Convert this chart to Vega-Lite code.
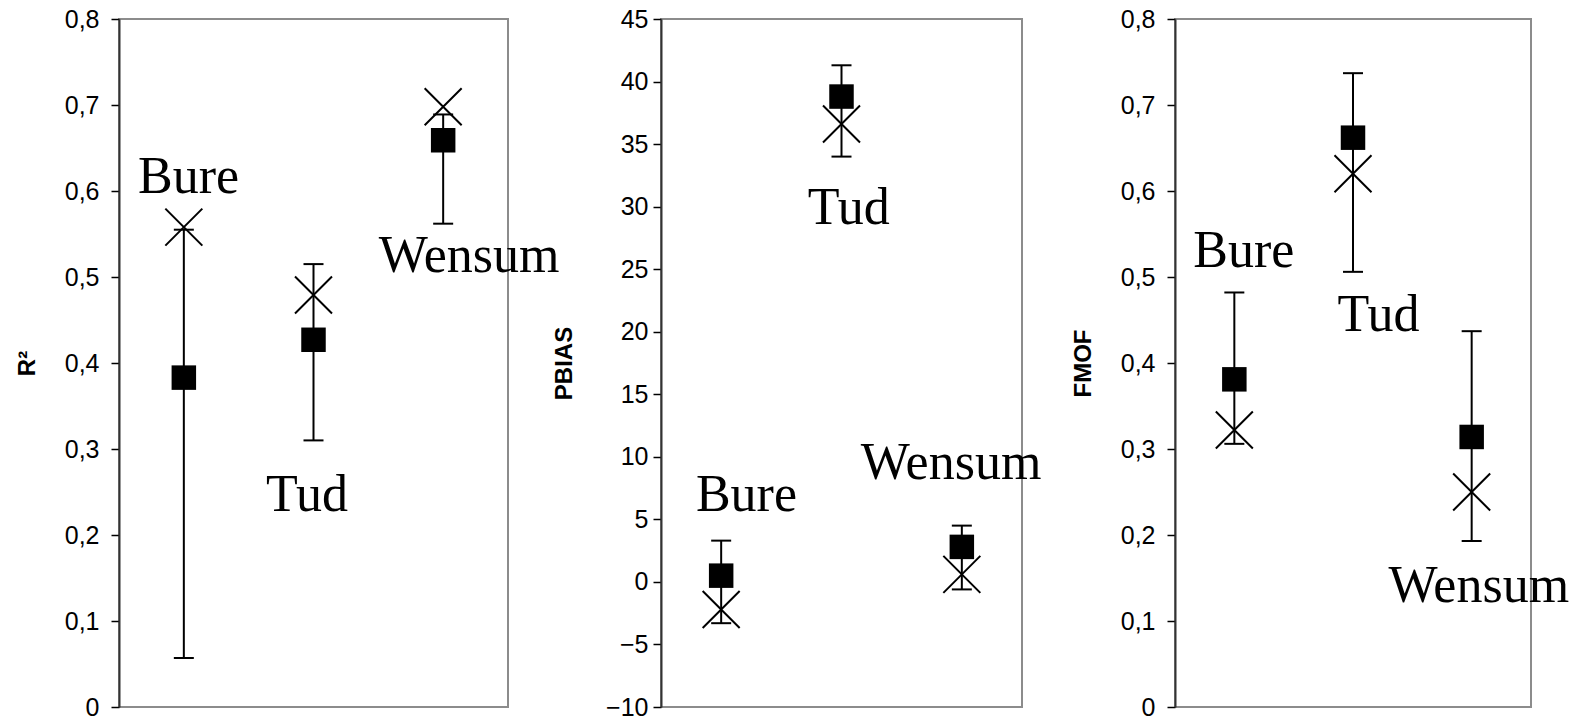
{
  "$schema": "https://vega.github.io/schema/vega-lite/v6.json",
  "padding": {"left": 14, "top": 6, "right": 0, "bottom": 0},
  "background": "white",
  "bounds": "flush",
  "spacing": 153,
  "config": {
    "view": {"stroke": "#8c8c8c", "strokeWidth": 2},
    "axisY": {
      "grid": false,
      "domainColor": "#333333",
      "domainWidth": 2,
      "tickColor": "#000000",
      "tickWidth": 1.5,
      "tickSize": 8,
      "labelFont": "Liberation Sans",
      "labelFontSize": 25,
      "labelColor": "#000000",
      "labelPadding": 12,
      "titleFont": "Liberation Sans",
      "titleFontSize": 24,
      "titleFontWeight": "bold",
      "titleColor": "#000000",
      "titlePadding": 25,
      "format": "~g",
      "labelExpr": "replace(datum.label, '.', ',')"
    }
  },
  "datasets": {
    "stats": [
      {"metric": "R2", "site": "Bure", "idx": 1, "mean": 0.383, "best": 0.558, "lo": 0.057, "hi": 0.555},
      {"metric": "R2", "site": "Tud", "idx": 2, "mean": 0.427, "best": 0.479, "lo": 0.31, "hi": 0.515},
      {"metric": "R2", "site": "Wensum", "idx": 3, "mean": 0.659, "best": 0.698, "lo": 0.562, "hi": 0.689},
      {"metric": "PBIAS", "site": "Bure", "idx": 1, "mean": 0.5, "best": -2.2, "lo": -3.3, "hi": 3.3},
      {"metric": "PBIAS", "site": "Tud", "idx": 2, "mean": 38.8, "best": 36.6, "lo": 34.0, "hi": 41.3},
      {"metric": "PBIAS", "site": "Wensum", "idx": 3, "mean": 2.8, "best": 0.6, "lo": -0.6, "hi": 4.5},
      {"metric": "FMOF", "site": "Bure", "idx": 1, "mean": 0.381, "best": 0.322, "lo": 0.306, "hi": 0.482},
      {"metric": "FMOF", "site": "Tud", "idx": 2, "mean": 0.662, "best": 0.62, "lo": 0.506, "hi": 0.737},
      {"metric": "FMOF", "site": "Wensum", "idx": 3, "mean": 0.314, "best": 0.25, "lo": 0.193, "hi": 0.437}
    ],
    "labels": [
      {"metric": "R2", "site": "Bure", "lx": 1.036, "ly": 0.598},
      {"metric": "R2", "site": "Tud", "lx": 1.95, "ly": 0.228},
      {"metric": "R2", "site": "Wensum", "lx": 3.2, "ly": 0.5055},
      {"metric": "PBIAS", "site": "Bure", "lx": 1.21, "ly": 5.7},
      {"metric": "PBIAS", "site": "Tud", "lx": 2.06, "ly": 28.6},
      {"metric": "PBIAS", "site": "Wensum", "lx": 2.91, "ly": 8.25},
      {"metric": "FMOF", "site": "Bure", "lx": 1.08, "ly": 0.512},
      {"metric": "FMOF", "site": "Tud", "lx": 2.215, "ly": 0.437},
      {"metric": "FMOF", "site": "Wensum", "lx": 3.06, "ly": 0.122}
    ]
  },
  "hconcat": [
    {
      "width": 389,
      "height": 688,
      "layer": [
        {
          "data": {"name": "stats"},
          "transform": [{"filter": "datum.metric === 'R2'"}],
          "layer": [
            {
              "mark": {"type": "rule", "strokeWidth": 2, "color": "#000000"},
              "encoding": {
                "x": {"field": "idx", "type": "quantitative", "scale": {"domain": [0.5, 3.5], "nice": false, "zero": false}, "axis": null},
                "y": {"field": "lo", "type": "quantitative", "scale": {"domain": [0, 0.8], "nice": false}, "axis": {"title": "R²", "values": [0, 0.1, 0.2, 0.3, 0.4, 0.5, 0.6, 0.7, 0.8]}},
                "y2": {"field": "hi"}
              }
            },
            {
              "mark": {"type": "tick", "orient": "horizontal", "size": 20, "thickness": 2, "color": "#000000", "opacity": 1},
              "encoding": {"x": {"field": "idx", "type": "quantitative"}, "y": {"field": "lo", "type": "quantitative"}}
            },
            {
              "mark": {"type": "tick", "orient": "horizontal", "size": 20, "thickness": 2, "color": "#000000", "opacity": 1},
              "encoding": {"x": {"field": "idx", "type": "quantitative"}, "y": {"field": "hi", "type": "quantitative"}}
            },
            {
              "mark": {"type": "point", "shape": "square", "filled": true, "size": 600, "color": "#000000", "opacity": 1},
              "encoding": {"x": {"field": "idx", "type": "quantitative"}, "y": {"field": "mean", "type": "quantitative"}}
            },
            {
              "mark": {"type": "point", "shape": "M-1,-1L1,1M1,-1L-1,1", "filled": false, "size": 1369, "strokeWidth": 2, "color": "#000000", "opacity": 1},
              "encoding": {"x": {"field": "idx", "type": "quantitative"}, "y": {"field": "best", "type": "quantitative"}}
            }
          ]
        },
        {
          "data": {"name": "labels"},
          "transform": [{"filter": "datum.metric === 'R2'"}],
          "mark": {"type": "text", "font": "Liberation Serif", "fontSize": 52, "align": "center", "baseline": "alphabetic", "color": "#000000"},
          "encoding": {"x": {"field": "lx", "type": "quantitative"}, "y": {"field": "ly", "type": "quantitative"}, "text": {"field": "site"}}
        }
      ]
    },
    {
      "width": 361,
      "height": 688,
      "layer": [
        {
          "mark": {"type": "rule", "strokeWidth": 1, "color": "#000000"},
          "encoding": {"y": {"datum": 0, "type": "quantitative", "scale": {"domain": [-10, 45], "nice": false}, "axis": {"title": "PBIAS", "values": [-10, -5, 0, 5, 10, 15, 20, 25, 30, 35, 40, 45], "labelPadding": 5, "titlePadding": 29}}}
        },
        {
          "data": {"name": "stats"},
          "transform": [{"filter": "datum.metric === 'PBIAS'"}],
          "layer": [
            {
              "mark": {"type": "rule", "strokeWidth": 2, "color": "#000000"},
              "encoding": {
                "x": {"field": "idx", "type": "quantitative", "scale": {"domain": [0.5, 3.5], "nice": false, "zero": false}, "axis": null},
                "y": {"field": "lo", "type": "quantitative"},
                "y2": {"field": "hi"}
              }
            },
            {
              "mark": {"type": "tick", "orient": "horizontal", "size": 20, "thickness": 2, "color": "#000000", "opacity": 1},
              "encoding": {"x": {"field": "idx", "type": "quantitative"}, "y": {"field": "lo", "type": "quantitative"}}
            },
            {
              "mark": {"type": "tick", "orient": "horizontal", "size": 20, "thickness": 2, "color": "#000000", "opacity": 1},
              "encoding": {"x": {"field": "idx", "type": "quantitative"}, "y": {"field": "hi", "type": "quantitative"}}
            },
            {
              "mark": {"type": "point", "shape": "square", "filled": true, "size": 600, "color": "#000000", "opacity": 1},
              "encoding": {"x": {"field": "idx", "type": "quantitative"}, "y": {"field": "mean", "type": "quantitative"}}
            },
            {
              "mark": {"type": "point", "shape": "M-1,-1L1,1M1,-1L-1,1", "filled": false, "size": 1369, "strokeWidth": 2, "color": "#000000", "opacity": 1},
              "encoding": {"x": {"field": "idx", "type": "quantitative"}, "y": {"field": "best", "type": "quantitative"}}
            }
          ]
        },
        {
          "data": {"name": "labels"},
          "transform": [{"filter": "datum.metric === 'PBIAS'"}],
          "mark": {"type": "text", "font": "Liberation Serif", "fontSize": 52, "align": "center", "baseline": "alphabetic", "color": "#000000"},
          "encoding": {"x": {"field": "lx", "type": "quantitative"}, "y": {"field": "ly", "type": "quantitative"}, "text": {"field": "site"}}
        }
      ]
    },
    {
      "width": 356,
      "height": 688,
      "layer": [
        {
          "data": {"name": "stats"},
          "transform": [{"filter": "datum.metric === 'FMOF'"}],
          "layer": [
            {
              "mark": {"type": "rule", "strokeWidth": 2, "color": "#000000"},
              "encoding": {
                "x": {"field": "idx", "type": "quantitative", "scale": {"domain": [0.5, 3.5], "nice": false, "zero": false}, "axis": null},
                "y": {"field": "lo", "type": "quantitative", "scale": {"domain": [0, 0.8], "nice": false}, "axis": {"title": "FMOF", "values": [0, 0.1, 0.2, 0.3, 0.4, 0.5, 0.6, 0.7, 0.8]}},
                "y2": {"field": "hi"}
              }
            },
            {
              "mark": {"type": "tick", "orient": "horizontal", "size": 20, "thickness": 2, "color": "#000000", "opacity": 1},
              "encoding": {"x": {"field": "idx", "type": "quantitative"}, "y": {"field": "lo", "type": "quantitative"}}
            },
            {
              "mark": {"type": "tick", "orient": "horizontal", "size": 20, "thickness": 2, "color": "#000000", "opacity": 1},
              "encoding": {"x": {"field": "idx", "type": "quantitative"}, "y": {"field": "hi", "type": "quantitative"}}
            },
            {
              "mark": {"type": "point", "shape": "square", "filled": true, "size": 600, "color": "#000000", "opacity": 1},
              "encoding": {"x": {"field": "idx", "type": "quantitative"}, "y": {"field": "mean", "type": "quantitative"}}
            },
            {
              "mark": {"type": "point", "shape": "M-1,-1L1,1M1,-1L-1,1", "filled": false, "size": 1369, "strokeWidth": 2, "color": "#000000", "opacity": 1},
              "encoding": {"x": {"field": "idx", "type": "quantitative"}, "y": {"field": "best", "type": "quantitative"}}
            }
          ]
        },
        {
          "data": {"name": "labels"},
          "transform": [{"filter": "datum.metric === 'FMOF'"}],
          "mark": {"type": "text", "font": "Liberation Serif", "fontSize": 52, "align": "center", "baseline": "alphabetic", "color": "#000000"},
          "encoding": {"x": {"field": "lx", "type": "quantitative"}, "y": {"field": "ly", "type": "quantitative"}, "text": {"field": "site"}}
        }
      ]
    }
  ]
}
